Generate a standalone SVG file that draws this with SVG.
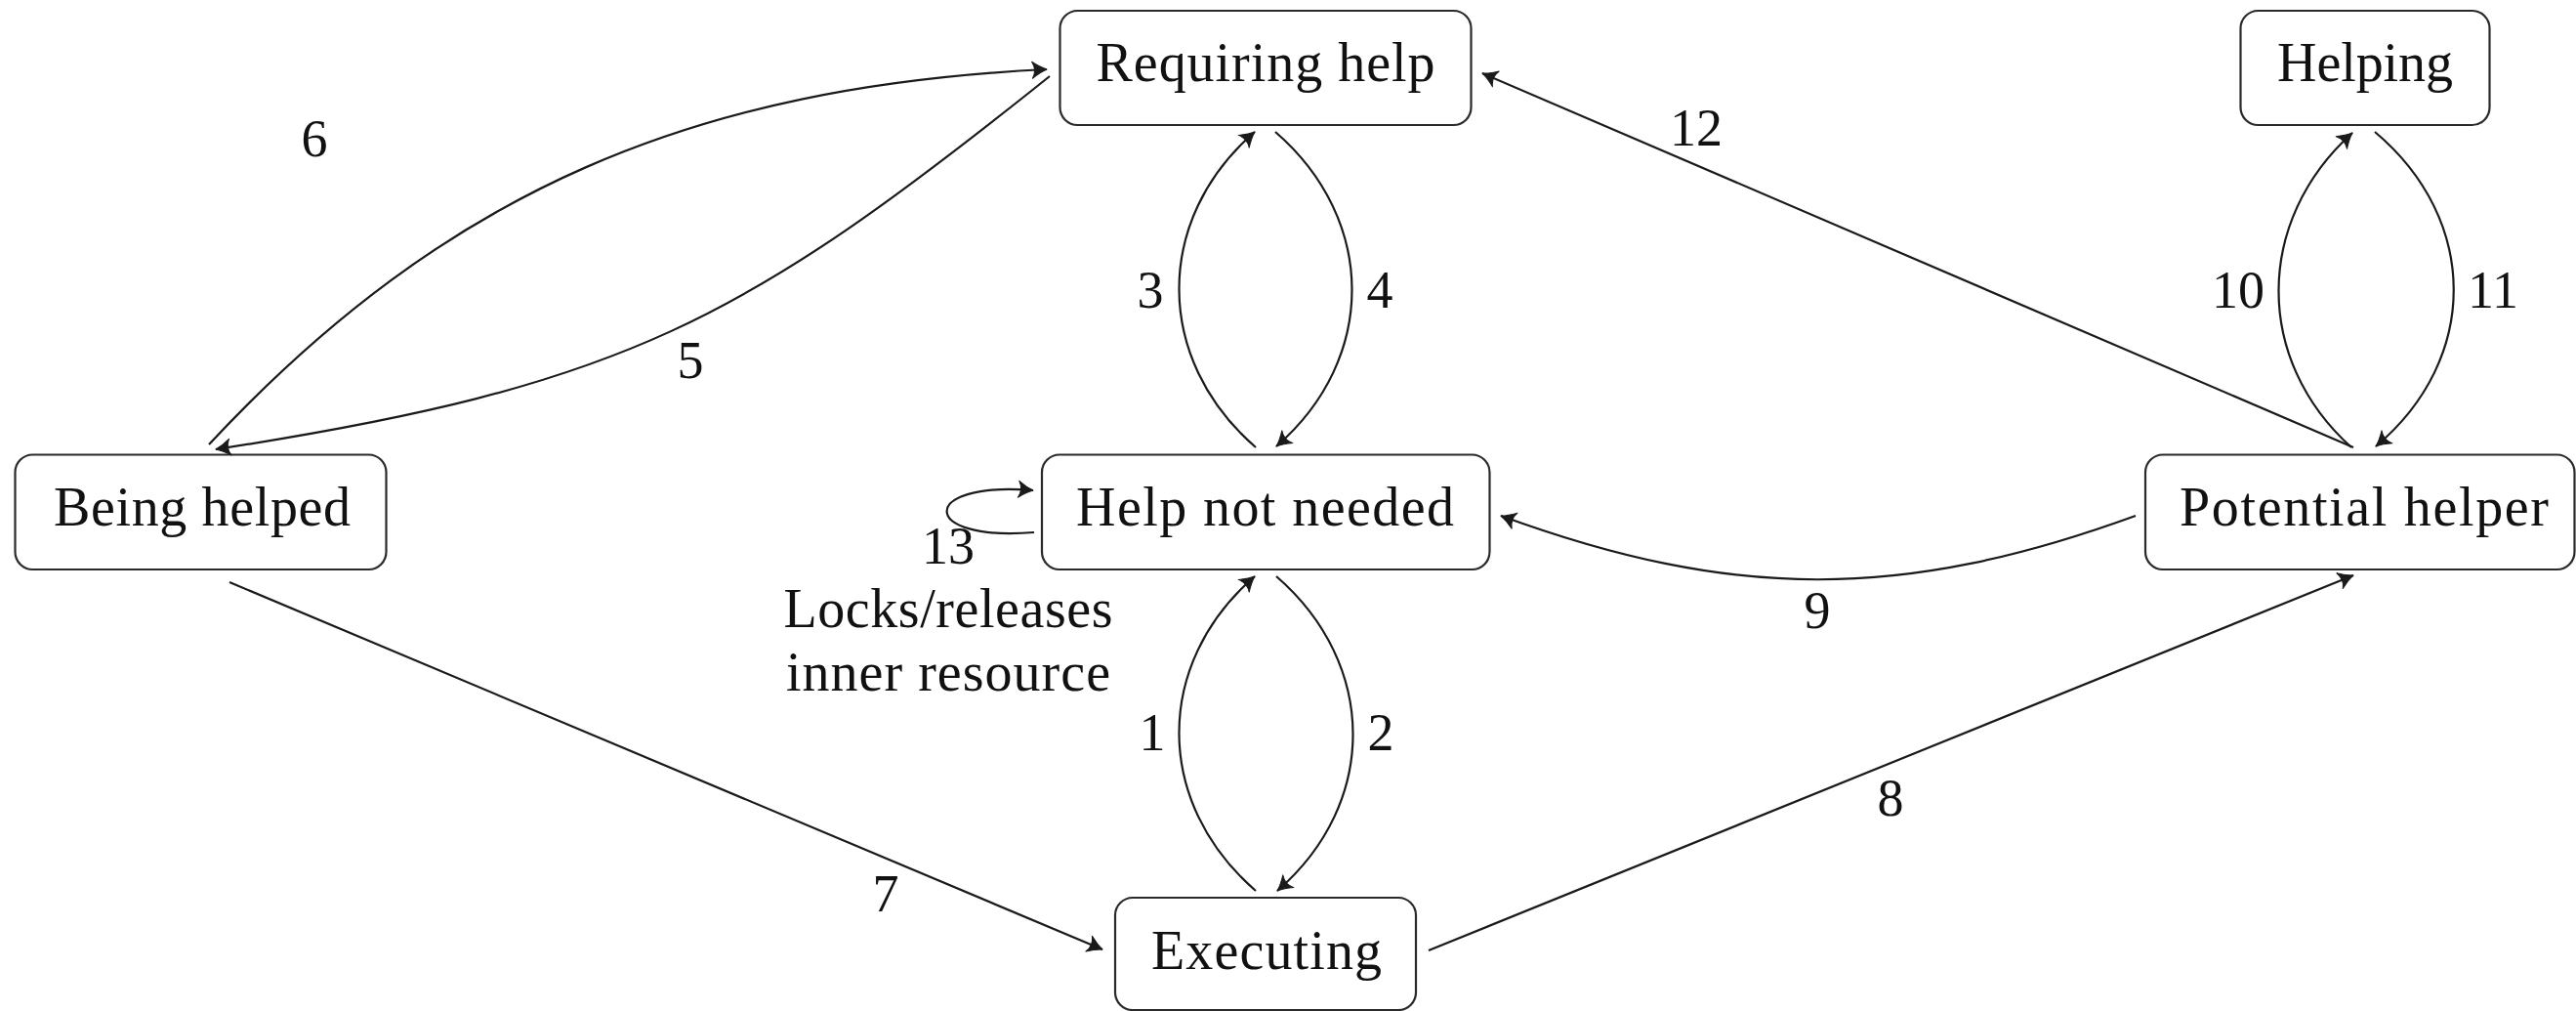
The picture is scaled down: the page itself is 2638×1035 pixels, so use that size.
<svg xmlns="http://www.w3.org/2000/svg" width="2638" height="1035" viewBox="0 0 2638 1035">
<style>
.node rect{fill:#fff;stroke:#2a2a2a;stroke-width:2.2}
.node text,.lbl{font-family:"Liberation Serif","Times New Roman",serif;font-size:54px;fill:#111;text-anchor:middle}
.node text,.big{font-size:56px}
.edge{fill:none;stroke:#1a1a1a;stroke-width:2.2;marker-end:url(#arr)}
</style>
<defs>
<marker id="arr" markerUnits="userSpaceOnUse" markerWidth="40" markerHeight="40" viewBox="-20 -20 40 40" refX="0" refY="0" orient="auto" overflow="visible">
<path d="M 0 0 Q -7 -2.6 -15 -8.5 Q -10 0 -15 8.5 Q -7 2.6 0 0 Z" fill="#1a1a1a" stroke="#1a1a1a" stroke-width="1" stroke-linejoin="round"/>
</marker>
</defs>
<rect width="2638" height="1035" fill="#fff"/>
<g id="nodes">
<g id="requiring-help" class="node"><rect x="1085.5" y="11" width="421" height="117" rx="18"/><text x="1296" y="83" textLength="347">Requiring help</text></g>
<g id="helping" class="node"><rect x="2294.5" y="11" width="255" height="117" rx="18"/><text x="2422" y="83" textLength="180">Helping</text></g>
<g id="being-helped" class="node"><rect x="15.5" y="465.5" width="380" height="117.5" rx="18"/><text x="207" y="538" textLength="304">Being helped</text></g>
<g id="help-not-needed" class="node"><rect x="1067" y="465.5" width="458.5" height="117.5" rx="18"/><text x="1295.5" y="538" textLength="387">Help not needed</text></g>
<g id="potential-helper" class="node"><rect x="2197" y="465.5" width="439.5" height="117.5" rx="18"/><text x="2421" y="538" textLength="378">Potential helper</text></g>
<g id="executing" class="node"><rect x="1142" y="919" width="308" height="115" rx="18"/><text x="1297" y="992" textLength="236">Executing</text></g>
</g>
<g id="connectors">
<path id="e1" class="edge" d="M1286 912 C1182 822 1181 680 1285 590"/>
<path id="e2" class="edge" d="M1307 590 C1411 680 1412 822 1308 912"/>
<path id="e3" class="edge" d="M1286 458 C1182 368 1181 225 1285 135"/>
<path id="e4" class="edge" d="M1306 135 C1410 225 1411 367 1307 457"/>
<path id="e5" class="edge" d="M1075 78 C760 330 640 395 221 460"/>
<path id="e6" class="edge" d="M214 455 C459 192 713 89 1072 71"/>
<path id="e7" class="edge" d="M235 596 L1129 972"/>
<path id="e8" class="edge" d="M1463 973 L2410 589"/>
<path id="e9" class="edge" d="M2187 528 C1948 615 1775 615 1537 528"/>
<path id="e10" class="edge" d="M2408 458 C2308 368 2309 226 2409 136"/>
<path id="e11" class="edge" d="M2432 135 C2539 225 2540 367 2433 457"/>
<path id="e12" class="edge" d="M2410 458 L1518 75"/>
<path id="e13" class="edge" d="M1059 545 C940 555 940 492 1058 502"/>
</g>
<g id="labels">
<text class="lbl" x="1180" y="768">1</text>
<text class="lbl" x="1414" y="768">2</text>
<text class="lbl" x="1178" y="315">3</text>
<text class="lbl" x="1413" y="315">4</text>
<text class="lbl" x="707" y="387">5</text>
<text class="lbl" x="322" y="160">6</text>
<text class="lbl" x="907" y="933">7</text>
<text class="lbl" x="1936" y="835">8</text>
<text class="lbl" x="1861" y="643">9</text>
<text class="lbl" x="2292" y="315">10</text>
<text class="lbl" x="2553" y="315">11</text>
<text class="lbl" x="1737" y="149">12</text>
<text class="lbl" x="971" y="577">13</text>
<text class="lbl big" x="971" y="642" textLength="337">Locks/releases</text>
<text class="lbl big" x="971" y="707" textLength="332">inner resource</text>
</g>
</svg>
